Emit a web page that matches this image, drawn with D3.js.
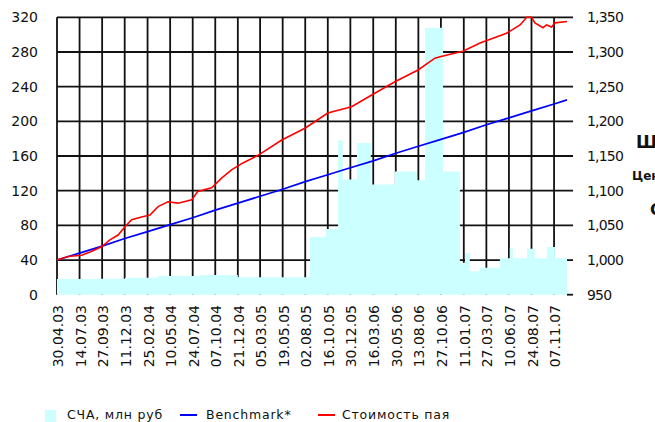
<!DOCTYPE html>
<html>
<head>
<meta charset="utf-8">
<script src="https://cdn.jsdelivr.net/npm/d3@7"></script>
<style>
	body { margin: 0; background: #fff; }
	svg { display: block; font-family: "DejaVu Sans", sans-serif; }
</style>
</head>
<body>
<div id="chart"></div>
<script>
// x axis labels (one per vertical grid line)
const tickLabels = ["30.04.03", "14.07.03", "27.09.03", "11.12.03", "25.02.04", "10.05.04",
	"24.07.04", "07.10.04", "21.12.04", "05.03.05", "19.05.05", "02.08.05", "16.10.05",
	"30.12.05", "16.03.06", "30.05.06", "13.08.06", "27.10.06", "11.01.07", "27.03.07",
	"10.06.07", "24.08.07", "07.11.07"];
const leftTicks = [0, 40, 80, 120, 160, 200, 240, 280, 320];
const rightTicks = [950, 1000, 1050, 1100, 1150, 1200, 1250, 1300, 1350];

// СЧА, млн руб (step series, left axis)
const navDates = ["30.04.03", "20.09.03", "12.12.03", "31.03.04", "17.08.04", "21.12.04",
	"18.08.05", "10.10.05", "19.11.05", "05.12.05", "21.01.06", "08.03.06", "27.05.06",
	"08.08.06", "04.09.06", "03.11.06", "29.12.06", "15.01.07", "31.01.07", "06.03.07",
	"11.05.07", "13.06.07", "23.06.07", "09.08.07", "04.09.07", "14.10.07", "10.11.07", "20.12.07"];
const navValues = [18, 18.5, 19.6, 21.6, 22.7, 20, 66.5, 75.8, 178, 133, 175, 127, 142,
	132, 308, 142, 37, 48, 27, 31, 42, 54, 42, 53, 42, 55, 42, 42];

// Benchmark* (right axis)
const benchDates = tickLabels.concat(["20.12.07"]);
const benchValues = [1000, 1010, 1020, 1031, 1041, 1051, 1061, 1072, 1082, 1092, 1102, 1113,
	1123, 1133, 1143, 1154, 1164, 1174, 1184, 1195, 1205, 1215, 1225, 1231];

// Стоимость пая (right axis)
const unitDates = ["30.04.03", "06.06.03", "21.07.03", "20.08.03", "25.09.03", "23.10.03",
	"19.11.03", "12.12.03", "03.01.04", "05.02.04", "04.03.04", "31.03.04", "03.05.04",
	"05.06.04", "21.07.04", "10.08.04", "25.09.04", "28.10.04", "30.11.04", "07.01.05",
	"26.02.05", "16.05.05", "01.08.05", "16.10.05", "03.01.06", "11.03.06", "27.05.06",
	"12.08.06", "07.10.06", "24.10.06", "18.12.06", "08.01.07", "06.03.07", "02.06.07",
	"17.07.07", "08.08.07", "24.08.07", "04.09.07", "01.10.07", "13.10.07", "30.10.07",
	"10.11.07", "20.12.07"];
const unitValues = [1000, 1005, 1007, 1012, 1019, 1029, 1036, 1048, 1058, 1062, 1065, 1077,
	1084, 1082, 1087, 1099, 1104, 1118, 1130, 1140, 1151, 1173, 1190, 1212, 1221, 1238, 1257,
	1274, 1291, 1293, 1299, 1301, 1313, 1327, 1339, 1350, 1350, 1342, 1335, 1339, 1336, 1342, 1344];

const width = 655, height = 422;
const parse = d3.timeParse("%d.%m.%y");

const svg = d3.select("#chart").append("svg")
	.attr("width", width)
	.attr("height", height);

// scales
const x = d3.scaleTime()
	.domain([parse("30.04.03"), parse("20.12.07")])
	.range([57, 567]);
const yL = d3.scaleLinear().domain([0, 320]).range([294.7, 17.3]);
const yR = d3.scaleLinear().domain([950, 1350]).range([294.7, 17.3]);

// grid
const grid = svg.append("g").attr("stroke", "#111").attr("stroke-width", 1.8);
grid.selectAll("line.h")
	.data(leftTicks.slice(1))
	.enter().append("line")
	.attr("x1", 57).attr("x2", 573)
	.attr("y1", d => yL(d)).attr("y2", d => yL(d));
grid.selectAll("line.v")
	.data(tickLabels)
	.enter().append("line")
	.attr("x1", d => x(parse(d))).attr("x2", d => x(parse(d)))
	.attr("y1", yL(320)).attr("y2", yL(0));
// small right tick at the bottom
grid.append("line")
	.attr("x1", 567).attr("x2", 573)
	.attr("y1", yR(950)).attr("y2", yR(950));

// СЧА area
const nav = navDates.map((d, i) => ({date: parse(d), value: navValues[i]}));
svg.append("path")
	.datum(nav)
	.attr("fill", "#ccffff")
	.attr("d", d3.area()
		.curve(d3.curveStepAfter)
		.x(d => x(d.date))
		.y0(yL(0))
		.y1(d => yL(d.value)));

// lines
const bench = benchDates.map((d, i) => ({date: parse(d), value: benchValues[i]}));
const unit = unitDates.map((d, i) => ({date: parse(d), value: unitValues[i]}));
const line = d3.line().x(d => x(d.date)).y(d => yR(d.value));

svg.append("path").datum(bench)
	.attr("fill", "none").attr("stroke", "#0000ff").attr("stroke-width", 1.7)
	.attr("d", line);
svg.append("path").datum(unit)
	.attr("fill", "none").attr("stroke", "#ff0000").attr("stroke-width", 1.6)
	.attr("d", line);

// left axis labels
svg.append("g").selectAll("text")
	.data(leftTicks)
	.enter().append("text")
	.attr("x", 38)
	.attr("y", d => yL(d))
	.attr("dy", "0.36em")
	.attr("text-anchor", "end")
	.attr("font-size", 14)
	.attr("fill", "#111")
	.text(d => d);

// right axis labels
const fmtR = d => d3.format(",")(d);
svg.append("g").selectAll("text")
	.data(rightTicks)
	.enter().append("text")
	.attr("x", 587)
	.attr("y", d => yR(d))
	.attr("dy", "0.36em")
	.attr("font-size", 14)
	.attr("letter-spacing", -0.8)
	.attr("fill", "#111")
	.text(fmtR);

// x labels, rotated
svg.append("g").selectAll("text")
	.data(tickLabels)
	.enter().append("text")
	.attr("transform", d => `translate(${x(parse(d)) + 1},305) rotate(-90)`)
	.attr("dy", "0.36em")
	.attr("text-anchor", "end")
	.attr("font-size", 14)
	.attr("fill", "#111")
	.text(d => d);

// legend
const legend = svg.append("g").attr("font-size", 12.5).attr("letter-spacing", 0.8).attr("fill", "#111");
legend.append("rect").attr("x", 45).attr("y", 410).attr("width", 11).attr("height", 12).attr("fill", "#ccffff");
legend.append("text").attr("x", 67).attr("y", 418.5).text("СЧА, млн руб");
legend.append("line").attr("x1", 180).attr("x2", 197).attr("y1", 415).attr("y2", 415)
	.attr("stroke", "#0000ff").attr("stroke-width", 2);
legend.append("text").attr("x", 206).attr("y", 418.5).text("Benchmark*");
legend.append("line").attr("x1", 318).attr("x2", 335).attr("y1", 415).attr("y2", 415)
	.attr("stroke", "#ff0000").attr("stroke-width", 2);
legend.append("text").attr("x", 342).attr("y", 418.5).text("Стоимость пая");

// cut-off text at the right edge
const side = svg.append("g").attr("font-weight", "bold").attr("fill", "#111");
side.append("text").attr("x", 636).attr("y", 148).attr("font-size", 17).text("Ш");
side.append("text").attr("x", 632).attr("y", 180).attr("font-size", 12).text("Цен");
side.append("text").attr("x", 650).attr("y", 215).attr("font-size", 16).text("С");
</script>
</body>
</html>
